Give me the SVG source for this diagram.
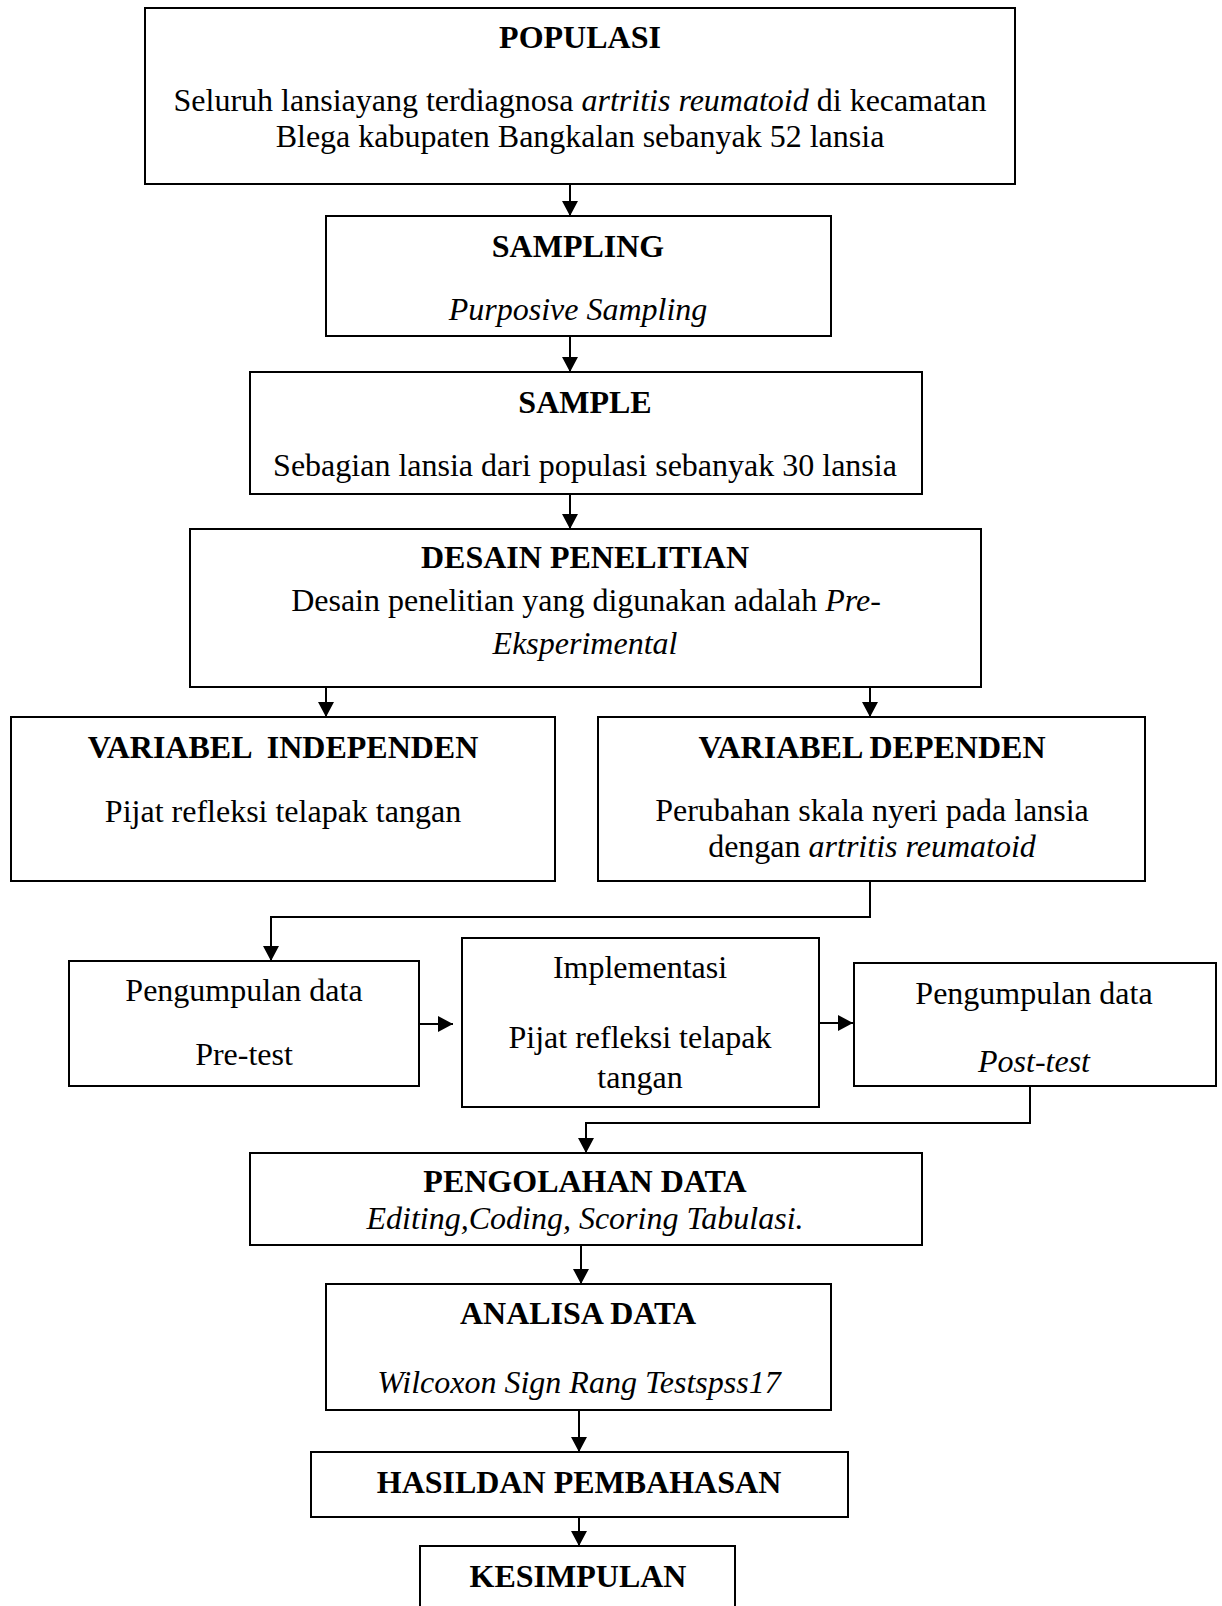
<svg xmlns="http://www.w3.org/2000/svg" width="1222" height="1606" viewBox="0 0 1222 1606">
<style>
rect.box{fill:#fff;stroke:#000;stroke-width:2}
text{font-family:"Liberation Serif","Times New Roman",serif;font-size:32px;fill:#000;text-anchor:middle}
.b{font-weight:bold}
.i{font-style:italic}
.c{fill:none;stroke:#000;stroke-width:2}
</style>
<defs>
<marker id="ah" markerUnits="userSpaceOnUse" markerWidth="16" markerHeight="16" refX="15" refY="8" orient="auto">
<path d="M0,0 L15,8 L0,16 Z" fill="#000"/>
</marker>
</defs>
<rect width="1222" height="1606" fill="#fff"/>
<g id="connectors">
<line class="c" x1="570" y1="184" x2="570" y2="216" marker-end="url(#ah)"/>
<line class="c" x1="570" y1="336" x2="570" y2="372" marker-end="url(#ah)"/>
<line class="c" x1="570" y1="494" x2="570" y2="529" marker-end="url(#ah)"/>
<line class="c" x1="326" y1="687" x2="326" y2="717" marker-end="url(#ah)"/>
<line class="c" x1="870" y1="687" x2="870" y2="717" marker-end="url(#ah)"/>
<polyline class="c" points="870,881 870,917 271,917 271,961" marker-end="url(#ah)"/>
<line class="c" x1="419" y1="1024" x2="453" y2="1024" marker-end="url(#ah)"/>
<line class="c" x1="819" y1="1023" x2="853" y2="1023" marker-end="url(#ah)"/>
<polyline class="c" points="1030,1086 1030,1123 586,1123 586,1153" marker-end="url(#ah)"/>
<line class="c" x1="581" y1="1245" x2="581" y2="1284" marker-end="url(#ah)"/>
<line class="c" x1="579" y1="1410" x2="579" y2="1452" marker-end="url(#ah)"/>
<line class="c" x1="579" y1="1517" x2="579" y2="1546" marker-end="url(#ah)"/>
</g>
<g id="populasi">
<rect class="box" x="145" y="8" width="870" height="176"/>
<text class="b" x="580" y="48">POPULASI</text>
<text x="580" y="111">Seluruh lansiayang terdiagnosa <tspan class="i">artritis reumatoid</tspan> di kecamatan</text>
<text x="580" y="147">Blega kabupaten Bangkalan sebanyak 52 lansia</text>
</g>
<g id="sampling">
<rect class="box" x="326" y="216" width="505" height="120"/>
<text class="b" x="578" y="257">SAMPLING</text>
<text class="i" x="578" y="320">Purposive Sampling</text>
</g>
<g id="sample">
<rect class="box" x="250" y="372" width="672" height="122"/>
<text class="b" x="585" y="413">SAMPLE</text>
<text x="585" y="476">Sebagian lansia dari populasi sebanyak 30 lansia</text>
</g>
<g id="desain">
<rect class="box" x="190" y="529" width="791" height="158"/>
<text class="b" x="585" y="568">DESAIN PENELITIAN</text>
<text x="586" y="611">Desain penelitian yang digunakan adalah <tspan class="i">Pre-</tspan></text>
<text class="i" x="585" y="654">Eksperimental</text>
</g>
<g id="var-independen">
<rect class="box" x="11" y="717" width="544" height="164"/>
<text class="b" x="283" y="758" xml:space="preserve">VARIABEL  INDEPENDEN</text>
<text x="283" y="822">Pijat refleksi telapak tangan</text>
</g>
<g id="var-dependen">
<rect class="box" x="598" y="717" width="547" height="164"/>
<text class="b" x="872" y="758">VARIABEL DEPENDEN</text>
<text x="872" y="821">Perubahan skala nyeri pada lansia</text>
<text x="872" y="857">dengan <tspan class="i">artritis reumatoid</tspan></text>
</g>
<g id="pretest">
<rect class="box" x="69" y="961" width="350" height="125"/>
<text x="244" y="1001">Pengumpulan data</text>
<text x="244" y="1065">Pre-test</text>
</g>
<g id="implementasi">
<rect class="box" x="462" y="938" width="357" height="169"/>
<text x="640" y="978">Implementasi</text>
<text x="640" y="1048">Pijat refleksi telapak</text>
<text x="640" y="1088">tangan</text>
</g>
<g id="posttest">
<rect class="box" x="854" y="963" width="362" height="123"/>
<text x="1034" y="1004">Pengumpulan data</text>
<text class="i" x="1034" y="1072">Post-test</text>
</g>
<g id="pengolahan">
<rect class="box" x="250" y="1153" width="672" height="92"/>
<text class="b" x="585" y="1192">PENGOLAHAN DATA</text>
<text class="i" x="585" y="1229">Editing,Coding, Scoring Tabulasi.</text>
</g>
<g id="analisa">
<rect class="box" x="326" y="1284" width="505" height="126"/>
<text class="b" x="578" y="1324">ANALISA DATA</text>
<text class="i" x="579" y="1393">Wilcoxon Sign Rang Testspss17</text>
</g>
<g id="hasil">
<rect class="box" x="311" y="1452" width="537" height="65"/>
<text class="b" x="579" y="1493">HASILDAN PEMBAHASAN</text>
</g>
<g id="kesimpulan">
<rect class="box" x="420" y="1546" width="315" height="80"/>
<text class="b" x="578" y="1587">KESIMPULAN</text>
</g>
</svg>
